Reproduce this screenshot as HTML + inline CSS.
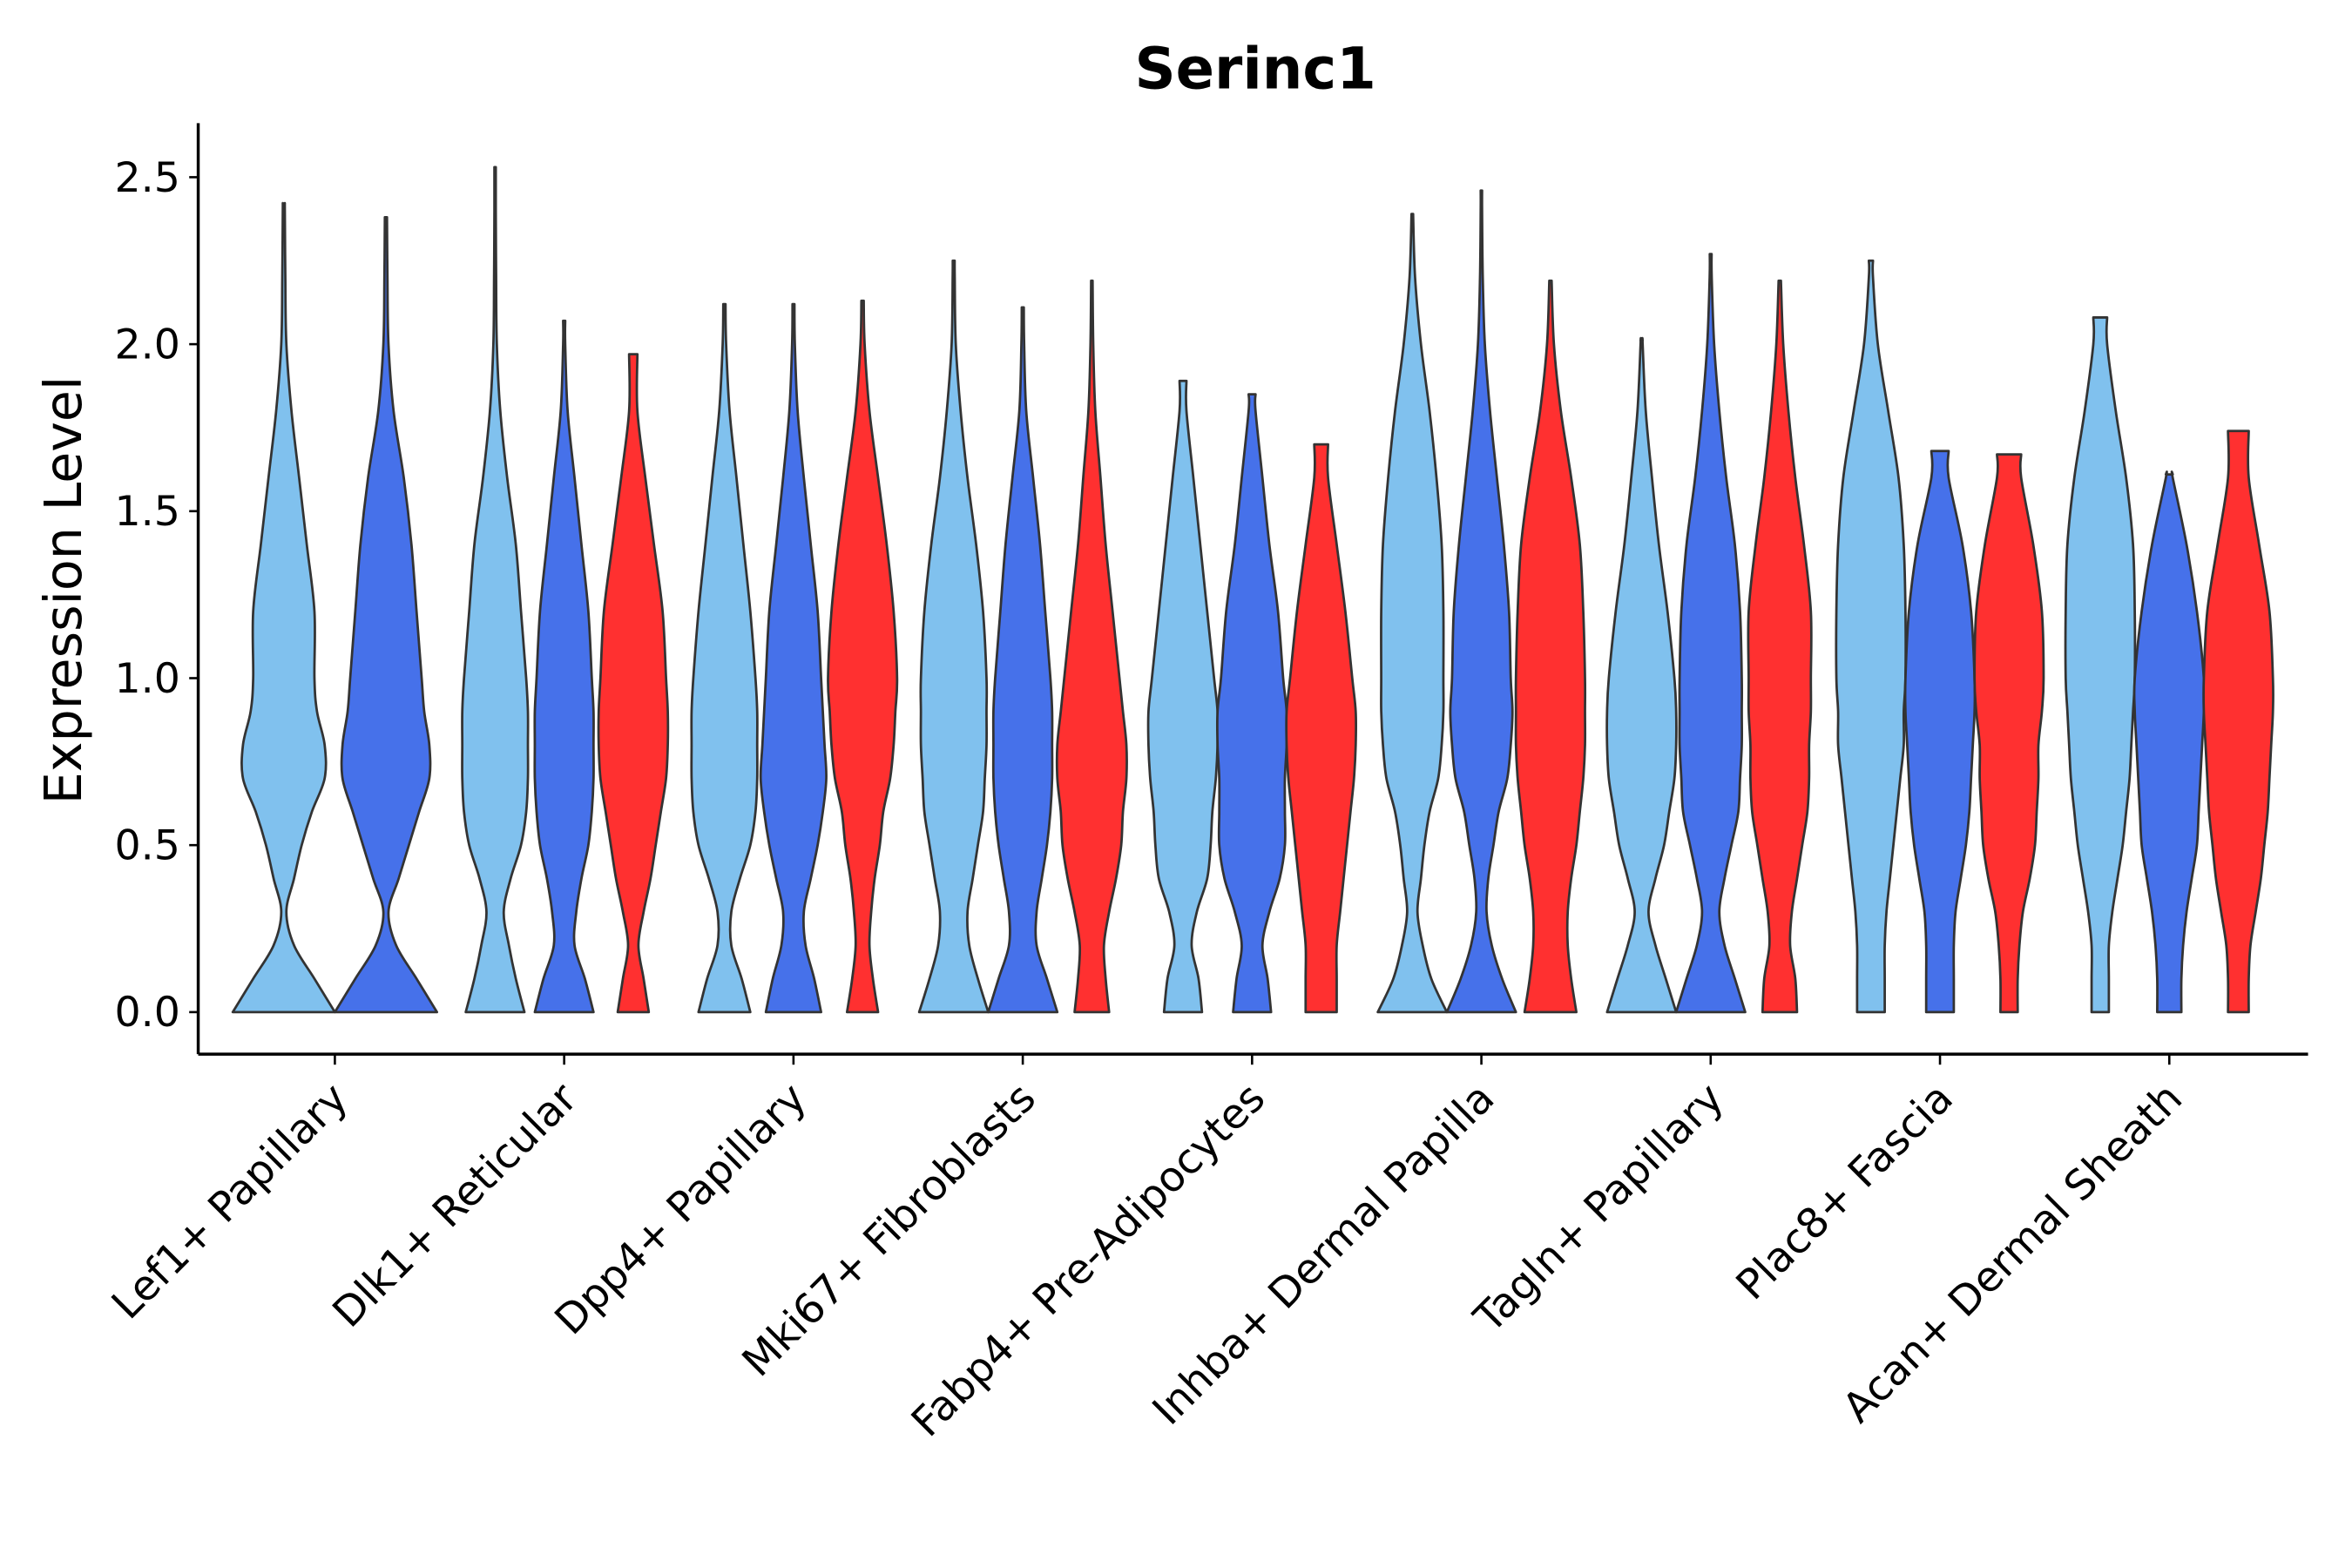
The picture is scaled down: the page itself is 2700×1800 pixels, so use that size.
<!DOCTYPE html>
<html><head><meta charset="utf-8"><style>
html,body{margin:0;padding:0;background:#fff}
svg{display:block}
text{font-family:"DejaVu Sans","Liberation Sans",sans-serif;fill:#000}
</style></head><body>
<svg id="chart" width="2700" height="1800" viewBox="0 0 1560 1040" xmlns="http://www.w3.org/2000/svg">
<rect width="1560" height="1040" fill="#fff"/>
<g transform="scale(0.996)">
<text x="836" y="59" font-size="38" font-weight="bold" text-anchor="middle">Serinc1</text>
<text transform="translate(54,393) rotate(-90)" font-size="34" text-anchor="middle">Expression Level</text>
<g id="marks"></g>
<g id="axes"></g>
</g>
</svg>
<script>
const categories=["Lef1+ Papillary","Dlk1+ Reticular","Dpp4+ Papillary","Mki67+ Fibroblasts","Fabp4+ Pre-Adipocytes","Inhba+ Dermal Papilla","Tagln+ Papillary","Plac8+ Fascia","Acan+ Dermal Sheath"];
const yTicks=[0,0.5,1,1.5,2,2.5];
const yTickLabels=["0.0","0.5","1.0","1.5","2.0","2.5"];
const levels=[0,0.1,0.2,0.3,0.4,0.5,0.6,0.7,0.8,0.9,1.0,1.2,1.4,1.6,1.8,2.0,2.2,2.4,2.6];
const seriesColors=["#80C1EE","#4671EA","#FF3030"];
const violinSeries=[[0,1],[0,1,2],[0,1,2],[0,1,2],[0,1,2],[0,1,2],[0,1,2],[0,1,2],[0,1,2]];
const violinMax=[[2.42,2.38],[2.53,2.07,1.97],[2.12,2.12,2.13],[2.25,2.11,2.19],[1.89,1.85,1.70],[2.39,2.46,2.19],[2.01,2.27,2.19],[2.25,1.68,1.67],[2.08,1.61,1.74]];
const violinDensity=[
[[1,.6,.2,.05,.2,.35,.55,.8,.8,.65,.6,.6,.45,.3,.15,.05,.03,.02],[1,.6,.2,.05,.25,.45,.65,.85,.85,.75,.7,.6,.5,.35,.15,.05,.03,.02]],
[[.85,.6,.4,.25,.45,.75,.9,.95,.95,.95,.9,.75,.6,.35,.15,.05,.03,.02],[.85,.6,.3,.35,.5,.7,.8,.85,.85,.85,.8,.7,.5,.3,.1,.03],[.45,.3,.15,.3,.5,.65,.8,.95,1,1,.95,.85,.6,.35,.12]],
[[.75,.5,.2,.2,.45,.75,.9,.95,.95,.95,.9,.75,.55,.35,.15,.05,.02],[.8,.6,.35,.3,.5,.7,.85,.95,.9,.85,.8,.7,.5,.3,.12,.04,.02],[.45,.3,.2,.25,.35,.5,.6,.8,.9,.95,1,.9,.7,.45,.2,.06,.02]],
[[1,.7,.45,.4,.55,.7,.85,.9,.95,.95,.95,.85,.65,.4,.2,.06,.03,.02],[1,.7,.4,.4,.55,.7,.8,.85,.85,.85,.8,.65,.5,.3,.1,.04,.02],[.5,.4,.35,.5,.7,.85,.9,1,1,.9,.8,.6,.4,.25,.1,.04,.02]],
[[.55,.45,.25,.4,.7,.8,.85,.95,1,1,.9,.7,.5,.3,.1],[.55,.45,.3,.5,.8,.95,.95,.95,1,1,.9,.75,.5,.3,.1],[.45,.45,.45,.55,.65,.75,.85,.95,1,1,.9,.7,.45,.2]],
[[1,.55,.3,.15,.25,.35,.5,.75,.85,.9,.9,.9,.85,.7,.5,.25,.08,.02],[1,.6,.3,.15,.2,.35,.5,.75,.85,.9,.85,.8,.65,.45,.25,.1,.04,.02],[.75,.6,.5,.5,.6,.75,.85,.95,1,1,1,.95,.85,.6,.3,.1,.03]],
[[1,.7,.4,.2,.4,.65,.8,.95,1,1,.95,.75,.5,.3,.12,.03],[1,.7,.4,.25,.4,.6,.8,.85,.9,.9,.9,.85,.7,.45,.25,.1,.03,.02],[.5,.45,.3,.35,.5,.65,.8,.85,.85,.9,.9,.9,.7,.45,.25,.1,.03]],
[[.4,.4,.4,.45,.55,.65,.75,.85,.95,.95,1,1,.95,.8,.5,.2,.06],[.4,.4,.4,.45,.6,.75,.85,.9,.95,1,1,.9,.65,.25],[.25,.25,.3,.4,.6,.75,.8,.85,.85,.95,1,.95,.7,.35]],
[[.25,.25,.25,.35,.5,.65,.75,.85,.9,.95,1,1,.95,.75,.45,.2],[.35,.35,.4,.5,.65,.8,.85,.9,.95,1,1,.8,.5,.1],[.3,.3,.35,.5,.65,.75,.85,.9,.95,1,1,.9,.6,.3]]
];

const NS="http://www.w3.org/2000/svg";
const plot={left:132,right:1537,top:82,bottom:702};
const y=v=>674-v*222.4;
const xCat=i=>223+i*152.7;
const marks=document.getElementById('marks');
const axes=document.getElementById('axes');
function mk(tag,attrs,parent){const e=document.createElementNS(NS,tag);for(const k in attrs)e.setAttribute(k,attrs[k]);parent.appendChild(e);return e;}

function smoothPath(pts){
  let d="M"+pts[0][0].toFixed(2)+","+pts[0][1].toFixed(2);
  for(let i=0;i<pts.length-1;i++){
    const p0=pts[Math.max(0,i-1)],p1=pts[i],p2=pts[i+1],p3=pts[Math.min(pts.length-1,i+2)];
    const c1=[p1[0]+(p2[0]-p0[0])/6,p1[1]+(p2[1]-p0[1])/6];
    const c2=[p2[0]-(p3[0]-p1[0])/6,p2[1]-(p3[1]-p1[1])/6];
    d+="C"+c1[0].toFixed(2)+","+c1[1].toFixed(2)+" "+c2[0].toFixed(2)+","+c2[1].toFixed(2)+" "+p2[0].toFixed(2)+","+p2[1].toFixed(2);
  }
  return d;
}

categories.forEach((cat,ci)=>{
  const ser=violinSeries[ci];
  const n=ser.length;
  const off=n===2?34:46;
  const half=n===2?34:23;
  ser.forEach((s,k)=>{
    const cx=xCat(ci)+(k-(n-1)/2)*off*(n===2?2:1);
    const dens=violinDensity[ci][k];
    const mx=violinMax[ci][k];
    const pts=[];
    for(let j=0;j<levels.length&&levels[j]<mx;j++){pts.push([levels[j],dens[Math.min(j,dens.length-1)]]);}
    const j=pts.length;
    const last=pts[j-1];
    const nextW=dens[Math.min(j,dens.length-1)]!==undefined?dens[Math.min(j,dens.length-1)]:0.02;
    const t=(mx-last[0])/((levels[j]||mx)-last[0]||1);
    pts.push([mx,Math.max(0.015,last[1]+(nextW-last[1])*t)]);
    const right=pts.map(p=>[cx+p[1]*half,y(p[0])]);
    const left=pts.slice().reverse().map(p=>[cx-p[1]*half,y(p[0])]);
    let d=smoothPath(right);
    d+="L"+left[0][0].toFixed(2)+","+left[0][1].toFixed(2);
    d+=smoothPath(left).replace(/^M[^C]*/,"");
    d+="Z";
    const p=mk('path',{d:d,fill:seriesColors[s],stroke:"#333",'stroke-width':1.6,'stroke-linejoin':'round'},marks);
    
    
  });
});

const yl=mk('line',{x1:plot.left,y1:plot.top,x2:plot.left,y2:plot.bottom,stroke:"#000",'stroke-width':2},axes);


const xl=mk('line',{x1:plot.left,y1:plot.bottom,x2:plot.right,y2:plot.bottom,stroke:"#000",'stroke-width':2},axes);


yTicks.forEach((v,i)=>{
  const t=mk('line',{x1:plot.left-6,y1:y(v),x2:plot.left,y2:y(v),stroke:"#000",'stroke-width':1.5},axes);
  
  
  const tx=mk('text',{x:plot.left-12,y:y(v)+9.5,'font-size':27.5,'text-anchor':'end'},axes);
  tx.textContent=yTickLabels[i];
  
  
});
categories.forEach((c,i)=>{
  const x=xCat(i);
  const t=mk('line',{x1:x,y1:plot.bottom,x2:x,y2:plot.bottom+7,stroke:"#000",'stroke-width':1.5},axes);
  
  
  const tx=mk('text',{transform:`translate(${x+10},${plot.bottom+31}) rotate(-45)`,'font-size':27.5,'text-anchor':'end'},axes);
  tx.textContent=c;
  
  
});
</script>
</body></html>
